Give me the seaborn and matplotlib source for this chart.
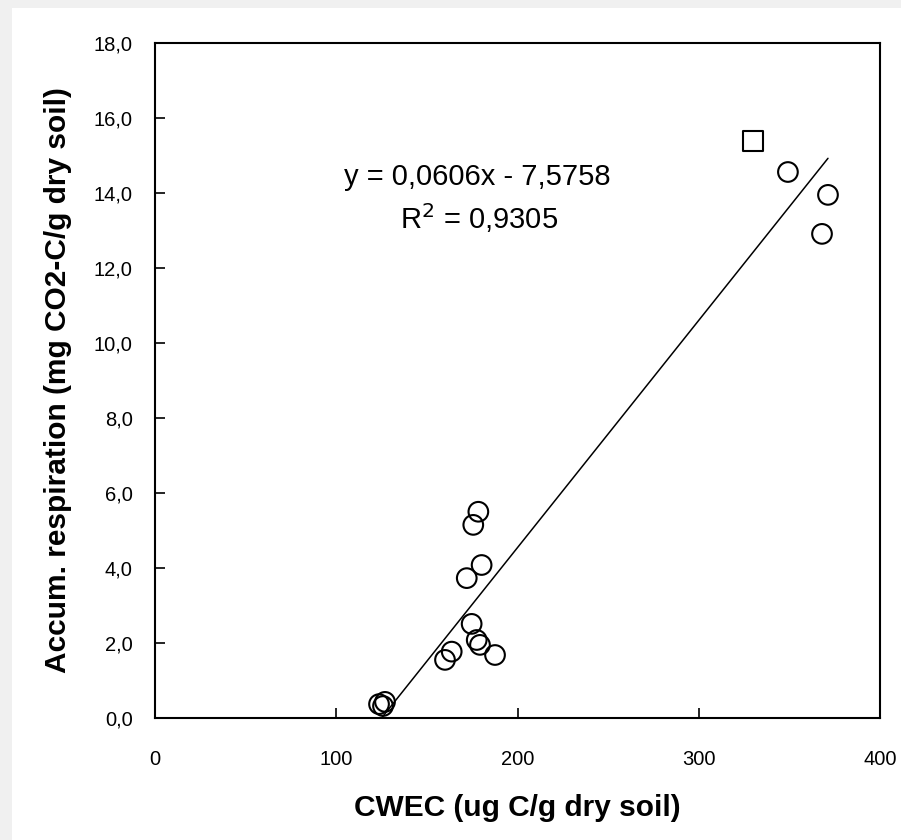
import numpy as np
import pandas as pd
import matplotlib
matplotlib.use("Agg")
import matplotlib.pyplot as plt
import seaborn as sns
from matplotlib.patches import Rectangle

sns.set_style("ticks")
plt.rcParams['font.family'] = ['Liberation Sans', 'DejaVu Sans']
plt.rcParams['text.color'] = 'black'
plt.rcParams['axes.labelcolor'] = 'black'
plt.rcParams['xtick.color'] = 'black'
plt.rcParams['ytick.color'] = 'black'

# --- data ---
cwec = [329.9, 349.2, 371.3, 368.0, 178.4, 175.6, 180.2, 172.0, 174.7,
        177.5, 179.3, 187.6, 163.7, 160.0, 123.6, 125.8, 126.9]
resp = [15.39, 14.56, 13.95, 12.91, 5.50, 5.15, 4.08, 3.73, 2.51,
        2.08, 1.95, 1.68, 1.77, 1.55, 0.37, 0.32, 0.43]
shape = ["square"] + ["circle"] * 16

slope, intercept, r2 = 0.0606, -7.5758, 0.9305
x_ticks = [0, 100, 200, 300, 400]
y_ticks = [0, 2, 4, 6, 8, 10, 12, 14, 16, 18]

df = pd.DataFrame({"cwec": cwec, "resp": resp, "shape": shape})
fit_x = np.array([min(cwec), max(cwec)])
fit = pd.DataFrame({"x": fit_x, "y": slope * fit_x + intercept})

fig = plt.figure(figsize=(9.01, 8.4), dpi=100, facecolor="#f0f0f0")
# white panel with thin grey margin on the left / top
fig.add_artist(Rectangle((12 / 901, 0), 1, 1 - 8 / 840, transform=fig.transFigure,
                         facecolor="white", edgecolor="none", zorder=-5))
ax = fig.add_axes([155 / 901, 1 - 718 / 840, 725 / 901, 675 / 840])
ax.set_zorder(1)
ax.set_facecolor("white")

sns.lineplot(data=fit, x="x", y="y", ax=ax, color="black", linewidth=1.1, zorder=2)
sns.scatterplot(data=df, x="cwec", y="resp", style="shape",
                markers={"square": "s", "circle": "o"}, s=200,
                facecolor="none", edgecolor="black", linewidth=1.5,
                legend=False, ax=ax, zorder=3)

ax.set_xlim(0, 400)
ax.set_ylim(0, 18)
ax.set_xticks(x_ticks)
ax.set_yticks(y_ticks)
ax.set_xticklabels([str(t) for t in x_ticks])
ax.set_yticklabels([f"{t:.1f}".replace(".", ",") for t in y_ticks])
ax.tick_params(axis="x", direction="in", length=7, width=1.2, pad=23, labelsize=14.5,
               bottom=True, top=False)
ax.tick_params(axis="y", direction="in", length=7, width=1.2, pad=16, labelsize=14.5,
               left=True, right=False)
for sp in ax.spines.values():
    sp.set_visible(True)
    sp.set_color("black")
    sp.set_linewidth(1.5)

ax.set_xlabel("CWEC (ug C/g dry soil)", fontsize=21.5, fontweight="bold", labelpad=18)
ax.set_ylabel("Accum. respiration (mg CO2-C/g dry soil)", fontsize=21.5, fontweight="bold",
              labelpad=16)

ax.text(178, 14.43, f"y = {slope:.4f}x - {-intercept:.4f}".replace(".", ","),
        fontsize=21, ha="center", va="center")
ax.text(179, 13.33, f"R$^2$ = {r2:.4f}".replace(".", ","),
        fontsize=21, ha="center", va="center")

fig.savefig("out.png", dpi=100, facecolor=fig.get_facecolor())
